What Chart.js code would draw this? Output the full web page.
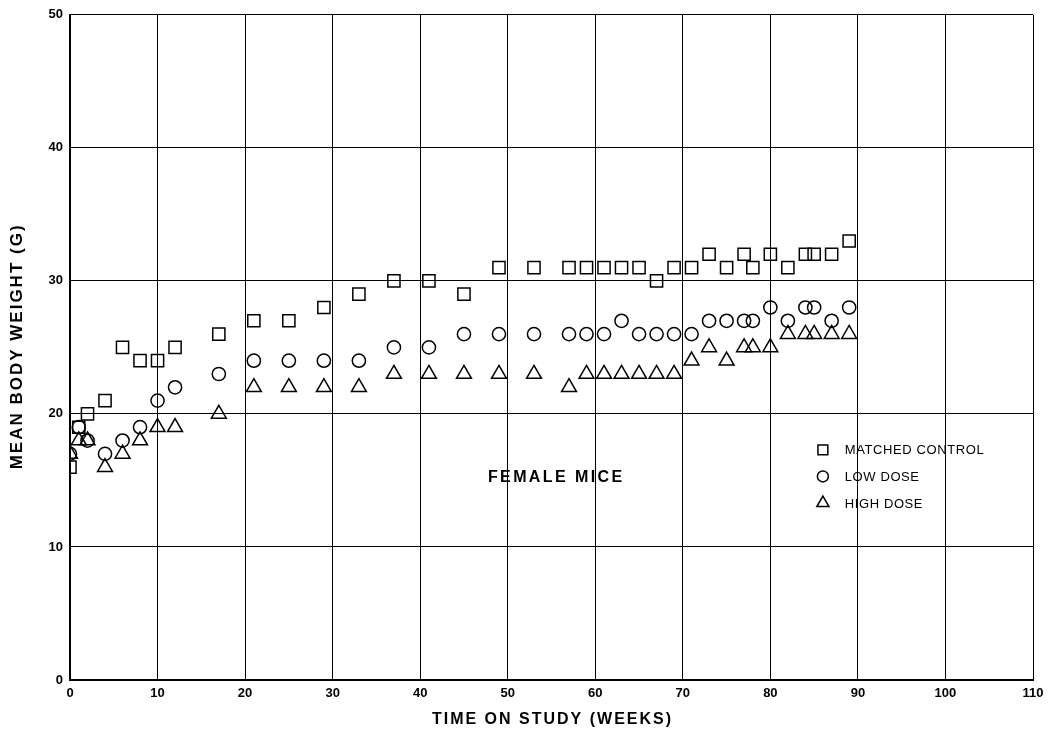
<!DOCTYPE html>
<html>
<head>
<meta charset="utf-8">
<script src="https://cdn.jsdelivr.net/npm/chart.js@4"></script>
<style>
html,body{margin:0;padding:0;background:#fff;}
#wrap{width:1050px;height:738px;}
</style>
</head>
<body>
<div id="wrap"><canvas id="c" width="1050" height="738"></canvas></div>
<script>
const weeks = [0,1,2,4,6,8,10,12,17,21,25,29,33,37,41,45,49,53,57,59,61,63,65,67,69,71,73,75,77,78,80,82,84,85,87,89];
const matchedControl = [16,19,20,21,25,24,24,25,26,27,27,28,29,30,30,29,31,31,31,31,31,31,31,30,31,31,32,31,32,31,32,31,32,32,32,33];
const lowDose = [17,19,18,17,18,19,21,22,23,24,24,24,24,25,25,26,26,26,26,26,26,27,26,26,26,26,27,27,27,27,28,27,28,28,27,28];
const highDose = [17,18,18,16,17,18,19,19,20,22,22,22,22,23,23,23,23,23,22,23,23,23,23,23,23,24,25,24,25,25,25,26,26,26,26,26];
const xTicks = [0,10,20,30,40,50,60,70,80,90,100,110];
const yTicks = [0,10,20,30,40,50];
const seriesNames = ['MATCHED CONTROL','LOW DOSE','HIGH DOSE'];
const annotationText = 'FEMALE MICE';
const xTitle = 'TIME ON STUDY (WEEKS)';
const yTitle = 'MEAN BODY WEIGHT (G)';

function pts(vals){ return weeks.map((w,i)=>({x:w,y:vals[i]})); }

const ds = (label, vals, style, r) => ({
  label, data: pts(vals), pointStyle: style,
  pointRadius: r, pointHoverRadius: r,
  borderColor: '#000', backgroundColor: 'rgba(0,0,0,0)',
  pointBorderWidth: 1.5, showLine: false
});

function spacedText(ctx, text, x, y, spacing){
  if ('letterSpacing' in ctx) {
    ctx.letterSpacing = spacing + 'px';
    const w = ctx.measureText(text).width - spacing;
    ctx.textAlign = 'left';
    ctx.fillText(text, x - w/2, y);
    ctx.letterSpacing = '0px';
  } else {
    let total = 0;
    for (const ch of text) total += ctx.measureText(ch).width + spacing;
    total -= spacing;
    let cx = x - total/2;
    ctx.textAlign = 'left';
    for (const ch of text) { ctx.fillText(ch, cx, y); cx += ctx.measureText(ch).width + spacing; }
  }
}

const overlay = {
  id: 'overlay',
  afterDraw(chart){
    const ctx = chart.ctx, xs = chart.scales.x, ys = chart.scales.y, a = chart.chartArea;
    ctx.save();
    ctx.fillStyle = '#000';
    ctx.textBaseline = 'middle';
    ctx.font = 'bold 16px "Liberation Sans", Arial, sans-serif';
    spacedText(ctx, annotationText, xs.getPixelForValue(55.4), ys.getPixelForValue(15.2), 2.4);
    ctx.font = 'bold 16px "Liberation Sans", Arial, sans-serif';
    spacedText(ctx, xTitle, (a.left + a.right)/2, 720, 2);
    ctx.save();
    ctx.translate(17, (a.top + a.bottom)/2);
    ctx.rotate(-Math.PI/2);
    ctx.font = 'bold 17px "Liberation Sans", Arial, sans-serif';
    spacedText(ctx, yTitle, 0, 0, 2);
    ctx.restore();
    const styles = ['rect','circle','triangle'];
    const radii = [7, 5.5, 7];
    const lx = xs.getPixelForValue(86.0);
    const tx = xs.getPixelForValue(88.5);
    const rows = [17.3, 15.3, 13.3];
    ctx.font = '13px "Liberation Sans", Arial, sans-serif';
    rows.forEach((v,i)=>{
      const py = ys.getPixelForValue(v);
      ctx.strokeStyle = '#000'; ctx.lineWidth = 1.5;
      ctx.fillStyle = 'rgba(0,0,0,0)';
      Chart.helpers.drawPoint(ctx, {pointStyle: styles[i], radius: radii[i], rotation: 0, borderWidth: 1.5}, lx, py);
      ctx.fillStyle = '#000';
      if ('letterSpacing' in ctx) ctx.letterSpacing = '0.6px';
      ctx.textAlign = 'left';
      ctx.fillText(seriesNames[i], tx, py + 1);
      if ('letterSpacing' in ctx) ctx.letterSpacing = '0px';
    });
    ctx.restore();
  }
};

new Chart(document.getElementById('c'), {
  type: 'scatter',
  data: { datasets: [
    ds(seriesNames[0], matchedControl, 'rect', 8.6),
    ds(seriesNames[1], lowDose, 'circle', 6.6),
    ds(seriesNames[2], highDose, 'triangle', 8.6)
  ]},
  options: {
    responsive: false, animation: false,
    layout: { padding: { top: 5, right: 17, left: 0, bottom: 0 } },
    plugins: { legend: { display: false }, tooltip: { enabled: false } },
    scales: {
      x: {
        type: 'linear', min: 0, max: 110,
        afterBuildTicks(s){ s.ticks = xTicks.map(v=>({value:v})); },
        afterFit(s){ s.height = 58; },
        grid: { color: '#000', lineWidth: 1, drawTicks: false },
        border: { color: '#000', width: 2 },
        ticks: { color: '#000', padding: 6, maxRotation: 0, font: { family: '"Liberation Sans Narrow", "Liberation Sans", Arial', weight: 'bold', size: 13 } },
        title: { display: false }
      },
      y: {
        type: 'linear', min: 0, max: 50,
        afterBuildTicks(s){ s.ticks = yTicks.map(v=>({value:v})); },
        afterFit(s){ s.width = 70; },
        grid: { color: '#000', lineWidth: 1, drawTicks: false },
        border: { color: '#000', width: 2 },
        ticks: { color: '#000', padding: 7, font: { family: '"Liberation Sans", Arial', weight: 'bold', size: 13 } },
        title: { display: false }
      }
    }
  },
  plugins: [overlay]
});
</script>
</body>
</html>
